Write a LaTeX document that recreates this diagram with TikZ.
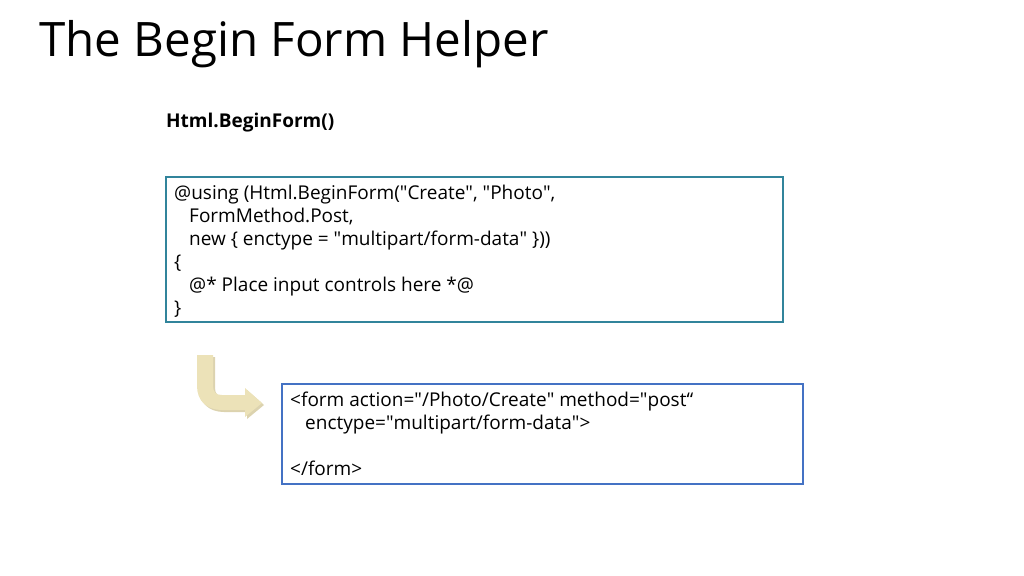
\documentclass[tikz,border=0pt]{standalone}
\usepackage{fontspec}
\setmainfont{Open Sans}
\definecolor{codebox}{RGB}{49,132,155}
\definecolor{htmlbox}{RGB}{68,114,196}
\definecolor{bendarrow}{RGB}{236,226,184}
\newcommand{\qt}{\textquotedbl}
\tikzset{x=1pt,y=-1pt,
  code/.style={anchor=north west,align=left,font=\fontsize{19}{23}\selectfont,inner sep=0pt}}
\begin{document}
\begin{tikzpicture}
  \useasboundingbox (0,0) rectangle (1024,575);
  \node[anchor=base west,font=\fontsize{47.5}{50}\selectfont,inner sep=0pt] (title) at (39,57) {The Begin Form Helper};
  \node[anchor=base west,font=\bfseries\fontsize{19}{20}\selectfont,inner sep=0pt] (helper) at (166,127) {Html.BeginForm()};

  \draw[codebox,line width=1.6pt] (166,177) rectangle (783,322);
  \node[code] (razor) at (174,185) {@using (Html.BeginForm(\qt Create\qt, \qt Photo\qt,\\
    \hspace*{15pt}FormMethod.Post,\\
    \hspace*{15pt}new \{ enctype = \qt multipart/form-data\qt{} \}))\\
    \{\\
    \hspace*{15pt}@* Place input controls here *@\\
    \}};

  \draw[htmlbox,line width=1.6pt] (282,384) rectangle (803,484);
  \node[code] (markup) at (290,392) {<form action=\qt/Photo/Create\qt{} method=\qt post“\\
    \hspace*{15pt}enctype=\qt multipart/form-data\qt>\\
    \strut\\
    </form>};

  % bent arrow
  \fill[bendarrow!85!gray] (199,357) -- (215,357) -- (215,388) .. controls (215,394) and (218,397) .. (224,397)
    -- (247,397) -- (247,390) -- (264,405) -- (247,419) -- (247,412) -- (224,412)
    .. controls (209,412) and (199,403) .. (199,388) -- cycle;
  \fill[bendarrow] (197,355) -- (213,355) -- (213,386) .. controls (213,392) and (216,395) .. (222,395)
    -- (245,395) -- (245,388) -- (262,403) -- (245,417) -- (245,410) -- (222,410)
    .. controls (207,410) and (197,401) .. (197,386) -- cycle;
\end{tikzpicture}
\end{document}
